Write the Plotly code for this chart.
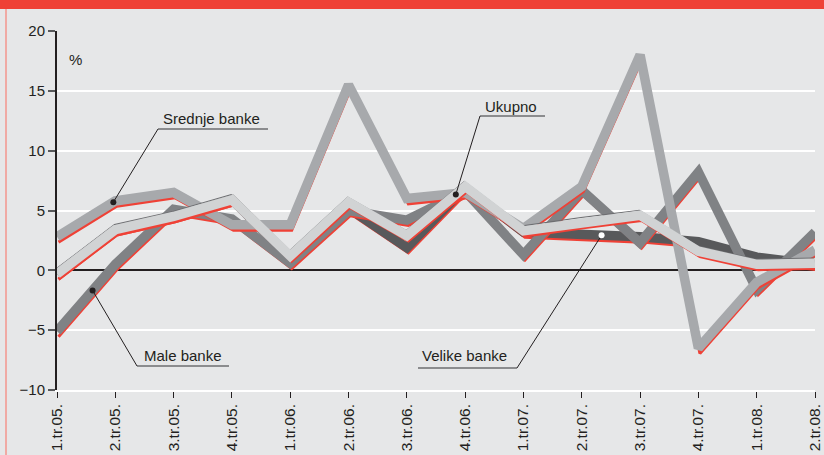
import numpy as np
import plotly.graph_objects as go

# ---------------- data ----------------
quarters = ["1.tr.05.", "2.tr.05.", "3.tr.05.", "4.tr.05.", "1.tr.06.", "2.tr.06.",
            "3.tr.06.", "4.tr.06.", "1.tr.07.", "2.tr.07.", "3.tr.07.", "4.tr.07.",
            "1.tr.08.", "2.tr.08."]
srednje = [2.8, 5.8, 6.5, 3.8, 3.8, 15.5, 6.0, 6.5, 3.5, 7.0, 18.0, -6.5, -1.0, 1.7]
male = [-5.1, 0.5, 5.1, 4.3, 0.6, 5.0, 4.2, 6.6, 1.3, 6.7, 2.3, 8.2, -1.6, 3.2]
ukupno = [-0.3, 3.4, 4.5, 5.9, 1.2, 5.7, 2.9, 7.0, 3.3, 4.0, 4.6, 1.6, 0.5, 0.6]
velike = [-0.3, 3.4, 4.5, 5.9, 1.1, 5.2, 1.9, 6.9, 3.2, 3.0, 2.8, 2.4, 1.1, 0.5]
y_tickvals = [-10, -5, 0, 5, 10, 15, 20]
y_ticktext = ["\u221210", "\u22125", "0", "5", "10", "15", "20"]

# ---------------- geometry / style ----------------
W, H = 824, 455
ML, MR, MT, MB = 57, 9, 31, 65
PW, PH = W - ML - MR, H - MT - MB
XR = [0, len(quarters) - 1]
YR = [-10, 20]
pxx = PW / (XR[1] - XR[0])
pyy = PH / (YR[1] - YR[0])

BG = "#e6e7e8"
RED = "#ef4136"
INK = "#231f20"
FONT = "Arial, Liberation Sans, Helvetica, sans-serif"

series = [
    ("Velike banke", velike, "#58595b"),
    ("Male banke", male, "#808285"),
    ("Srednje banke", srednje, "#a7a9ac"),
    ("Ukupno", ukupno, "#d1d3d4"),
]

xs = list(range(len(quarters)))

# layers: (values, colour, width, dx px, dy px)
layers = []
for name, vals, col in series:
    layers.append((vals, RED, 3, 1.5, 5.3))
    if name == "Ukupno":
        layers.append((vals, "#6d6e71", 1.2, -0.8, -5.0))
    layers.append((vals, col, 9.5, 0.0, 0.0))

fig = go.Figure()
# main subplot (axes, grid)
fig.add_trace(go.Scatter(x=[], y=[], mode="lines", showlegend=False, hoverinfo="skip"))

layout_axes = {}
for i, (vals, col, wd, dx, dy) in enumerate(layers, start=2):
    xa, ya = f"x{i}", f"y{i}"
    fig.add_trace(go.Scatter(x=xs, y=vals, mode="lines",
                             line=dict(color=col, width=wd),
                             xaxis=xa, yaxis=ya, showlegend=False, hoverinfo="skip"))
    layout_axes[f"xaxis{i}"] = dict(visible=False, domain=[0, 1], anchor=ya,
                                    range=[XR[0] - dx / pxx, XR[1] - dx / pxx],
                                    fixedrange=True, automargin=False)
    layout_axes[f"yaxis{i}"] = dict(visible=False, domain=[0, 1], anchor=xa,
                                    range=[YR[0] + dy / pyy, YR[1] + dy / pyy],
                                    fixedrange=True, automargin=False)

fig.update_layout(template="none")
fig.update_layout(**layout_axes)

fig.update_layout(
    width=W, height=H,
    margin=dict(l=ML, r=MR, t=MT, b=MB, pad=0, autoexpand=False),
    paper_bgcolor=BG, plot_bgcolor="rgba(0,0,0,0)",
    showlegend=False,
    font=dict(family=FONT, color=INK, size=15),
    xaxis=dict(range=XR, tickvals=xs, ticktext=quarters, tickangle=-90,
               showgrid=False, zeroline=False, automargin=False,
               showline=True, linecolor="white", linewidth=1.5,
               ticks="outside", ticklen=6, tickwidth=1.2, tickcolor=INK,
               tickfont=dict(size=15.5, color=INK, family=FONT), fixedrange=True),
    yaxis=dict(range=YR, tickvals=y_tickvals, ticktext=y_ticktext,
               showgrid=True, gridcolor="white", gridwidth=1.5, automargin=False,
               zeroline=True, zerolinecolor=INK, zerolinewidth=2.3,
               showline=True, linecolor=INK, linewidth=2,
               ticks="outside", ticklen=7, tickwidth=1.5, tickcolor="#58595b",
               tickfont=dict(size=15, color=INK, family=FONT), fixedrange=True),
)

# ---------------- decorations ----------------
shapes = []
# red header band
shapes.append(dict(type="rect", xref="paper", yref="paper", layer="above",
                   x0=-ML / PW, x1=1 + MR / PW,
                   y0=1 + (MT - 9) / PH, y1=1 + MT / PH,
                   fillcolor=RED, line=dict(width=0)))
# left pink frame line
shapes.append(dict(type="line", xref="paper", yref="paper", layer="above",
                   x0=(6 - ML) / PW, x1=(6 - ML) / PW,
                   y0=-MB / PH, y1=1 + (MT - 9) / PH,
                   line=dict(color="#f3968e", width=1.5)))

def px2x(p):
    return XR[0] + (p - ML) / pxx

def px2y(p):
    return YR[1] - (p - MT) / pyy

# label specs: text, series values, dot x (data), text left px, text centre py,
# underline x0/x1 px, underline py, leader end ('left'/'right'), dot colour
labels = [
    ("Srednje banke", srednje, 0.966, 161, 118.5, 158, 268, 129, "left", INK),
    ("Ukupno", ukupno, 6.84, 483, 106, 480, 545, 116, "left", INK),
    ("Male banke", male, 0.61, 142, 355, 137, 229, 366, "left", INK),
    ("Velike banke", velike, 9.34, 420, 355, 418, 517, 368, "right", "white"),
]

annotations = []
for text, vals, dxv, tx, ty, u0, u1, uy, side, dcol in labels:
    dyv = float(np.interp(dxv, xs, vals))
    annotations.append(dict(text=text, x=px2x(tx), y=px2y(ty), xref="x", yref="y",
                            xanchor="left", yanchor="middle", showarrow=False,
                            font=dict(size=15, color=INK, family=FONT)))
    shapes.append(dict(type="line", xref="x", yref="y", layer="above",
                       x0=px2x(u0), x1=px2x(u1), y0=px2y(uy), y1=px2y(uy),
                       line=dict(color="#6d6e71", width=1.5)))
    ex = px2x(u0) if side == "left" else px2x(u1)
    shapes.append(dict(type="line", xref="x", yref="y", layer="above",
                       x0=ex, y0=px2y(uy), x1=dxv, y1=dyv,
                       line=dict(color=INK, width=1)))
    shapes.append(dict(type="circle", xref="x", yref="y", layer="above",
                       xsizemode="pixel", ysizemode="pixel",
                       xanchor=dxv, yanchor=dyv, x0=-3, x1=3, y0=-3, y1=3,
                       fillcolor=dcol, line=dict(width=0)))

annotations.append(dict(text="%", x=px2x(67), y=px2y(59), xref="x", yref="y",
                        xanchor="left", yanchor="middle", showarrow=False,
                        font=dict(size=15, color=INK, family=FONT)))

fig.update_layout(shapes=shapes, annotations=annotations)

fig.write_html("out.html", config={"displayModeBar": False},
               post_script="document.body.style.margin='0';document.body.style.overflow='hidden';")
